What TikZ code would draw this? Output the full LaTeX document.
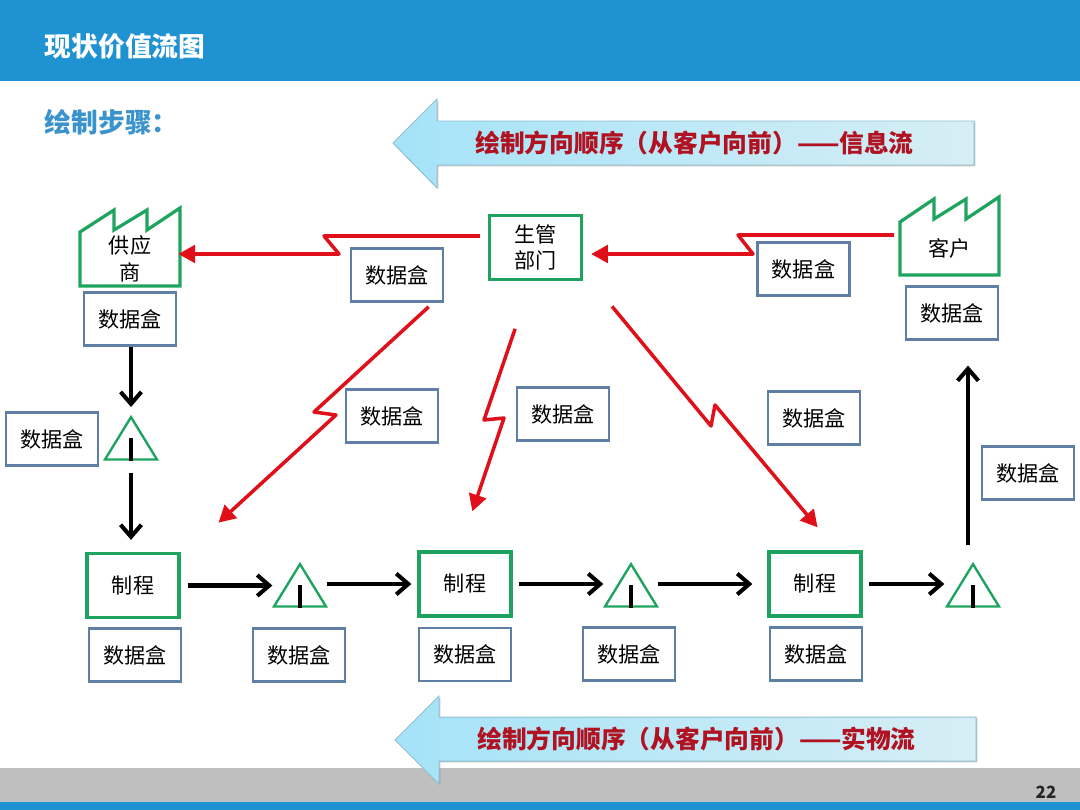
\documentclass[tikz,border=0pt]{standalone}
\usepackage{fontspec}
\setmainfont{Noto Sans CJK SC}
\usetikzlibrary{arrows.meta,shapes.geometric,shadows}
\definecolor{bandblue}{HTML}{1F92D1}
\definecolor{headblue}{HTML}{3A93CC}
\definecolor{bandgray}{HTML}{BFBFBF}
\definecolor{plantgreen}{HTML}{1FA45F}
\definecolor{boxblue}{HTML}{5F7FA5}
\definecolor{linered}{HTML}{E0101A}
\definecolor{flowred}{HTML}{B01222}
\definecolor{arrowleft}{HTML}{A5E3F8}
\definecolor{arrowright}{HTML}{D7EEF5}
\definecolor{arrowedge}{HTML}{8FBFCF}
\begin{document}
\begin{tikzpicture}[x=0.025cm,y=-0.025cm,
    databox/.style={draw=boxblue,line width=1.7pt,minimum width=2.3cm,minimum height=1.32cm,inner sep=0pt,font=\fontsize{15}{18}\selectfont},
    process/.style={draw=plantgreen,line width=2.3pt,minimum width=2.3cm,minimum height=1.6cm,inner sep=0pt,align=center,font=\fontsize{15}{18}\selectfont},
    plantname/.style={minimum width=2.5cm,minimum height=1.35cm,inner sep=0pt,align=center,font=\fontsize{15}{19}\selectfont},
    plant/.style={draw=plantgreen,line width=2.3pt,line join=miter},
    stock/.style={draw=plantgreen,line width=1.7pt,isosceles triangle,isosceles triangle stretches,shape border rotate=90,minimum width=1.3cm,minimum height=1.06cm,inner sep=0pt,anchor=apex},
    bar/.style={line width=2.6pt},
    flow/.style={line width=2.9pt,-{Straight Barb[length=3mm,width=5.2mm]}},
    info/.style={linered,line width=2.5pt,line join=round,-{Triangle[length=4.2mm,width=4.4mm]}},
    bigarrow/.style={draw=arrowedge,line width=0.7pt,left color=arrowleft,right color=arrowright,drop shadow={shadow xshift=1pt,shadow yshift=-1pt,fill=black!45}},
    flowtext/.style={text=flowred,font=\fontsize{17.6}{20}\selectfont\bfseries}]
  \useasboundingbox (0,0) rectangle (1080,810);
  % bands
  \fill[bandblue] (0,0) rectangle (1080,81);
  \fill[bandgray] (0,768) rectangle (1080,802);
  \fill[bandblue] (0,802) rectangle (1080,810);
  \node[anchor=west,text=white,font=\fontsize{19}{22}\selectfont\bfseries] (title) at (40,46) {现状价值流图};
  \node[anchor=west,text=headblue,font=\fontsize{19}{22}\selectfont\bfseries] (steps) at (40,122) {绘制步骤：};
  \node[font=\fontsize{12}{14}\selectfont\bfseries,text=black!85] (pageno) at (1046,792) {22};
  % direction arrows
  \draw[bigarrow] (393,143) -- (437,99) -- (437,121) -- (974,121) -- (974,165) -- (437,165) -- (437,188) -- cycle;
  \node[flowtext] (infotext) at (694.5,143) {绘制方向顺序（从客户向前）——信息流};
  \draw[bigarrow] (395,740) -- (439,696) -- (439,717) -- (976,717) -- (976,761) -- (439,761) -- (439,784) -- cycle;
  \node[flowtext] (mattext) at (696.5,739) {绘制方向顺序（从客户向前）——实物流};
  % plants
  \draw[plant] (80,232) -- (114,210) -- (114,230) -- (147,210) -- (147,230) -- (180,208) -- (180,286) -- (80,286) -- cycle;
  \draw[plant] (900,222) -- (934,199) -- (934,219) -- (966,199) -- (966,219) -- (999,197) -- (999,275) -- (900,275) -- cycle;
  \node[plantname] (supplier) at (130,259) {供应\\商};
  \node[plantname] (customer) at (949.5,248) {客户};
  \node[process] (ctrl) at (535.5,247.5) {生管\\部门};
  \node[process] (p1) at (133,585.5) {制程};
  \node[process] (p2) at (465,584) {制程};
  \node[process] (p3) at (815,584) {制程};
  % stock triangles
  \node[stock] (t1) at (131,414) {};
  \node[stock] (t2) at (300,561) {};
  \node[stock] (t3) at (631,561) {};
  \node[stock] (t4) at (973,561) {};
  \foreach \t in {t1,t2,t3,t4}{ \draw[bar] (\t.south) -- ++(0,-23); }
  % data boxes
  \node[databox] (dsup) at (130,319) {数据盒};
  \node[databox] (dleft) at (52,439) {数据盒};
  \node[databox] (dinfoa) at (397,275) {数据盒};
  \node[databox] (dinfob) at (803.5,269) {数据盒};
  \node[databox] (dcus) at (952,313) {数据盒};
  \node[databox] (dsa) at (392,416) {数据盒};
  \node[databox] (dsb) at (563,414) {数据盒};
  \node[databox] (dsc) at (814,418) {数据盒};
  \node[databox] (dright) at (1028,473) {数据盒};
  \node[databox] (da) at (135,655) {数据盒};
  \node[databox] (db) at (299,655) {数据盒};
  \node[databox] (dc) at (465,654.5) {数据盒};
  \node[databox] (dd) at (629,654) {数据盒};
  \node[databox] (de) at (816,654) {数据盒};
  % material flow
  \draw[flow,shorten >=.175cm] (dsup.south -| t1.apex) -- (t1.apex);
  \draw[flow,shorten <=.3cm,shorten >=.3cm] (t1.south) -- (t1.south |- p1.north);
  \draw[flow,shorten <=.175cm,shorten >=.225cm] (p1.east) -- (p1.east -| t2.west);
  \draw[flow,shorten <=.2cm,shorten >=.15cm] (p2.west -| t2.east) -- (p2.west);
  \draw[flow,shorten <=.15cm,shorten >=.225cm] (p2.east) -- (p2.east -| t3.west);
  \draw[flow,shorten <=.2cm,shorten >=.375cm] (p3.west -| t3.east) -- (p3.west);
  \draw[flow,shorten <=.15cm,shorten >=.25cm] (p3.east) -- (p3.east -| t4.west);
  \draw[flow,shorten <=.4cm,shorten >=.625cm] ([xshift=-1.25mm]t4.apex) -- ([xshift=-1.25mm]t4.apex |- dcus.south);
  % information flow
  \coordinate (ka) at (324,236);
  \coordinate (kb) at (339,254);
  \coordinate (kc) at (738,235);
  \coordinate (kd) at (753,254);
  \coordinate (ke) at (314,412);
  \coordinate (kf) at (336,415);
  \coordinate (kg) at (484,420);
  \coordinate (kh) at (504,418);
  \coordinate (ki) at (711,426);
  \coordinate (kj) at (715,405);
  \draw[info,shorten <=.2cm,shorten >=-.05cm] (ctrl.west |- ka) -- (ka) -- (kb) -- (supplier.east |- kb);
  \draw[info,shorten <=.125cm,shorten >=.2cm] (customer.west |- kc) -- (kc) -- (kd) -- (ctrl.east |- kd);
  \draw[info,shorten <=.95cm,shorten >=1.08cm] ([xshift=-.78cm]ctrl.south west) -- (ke) -- (kf) -- ([xshift=.15cm]p1.north east);
  \draw[info,shorten <=1.26cm,shorten >=1.03cm] (ctrl.263) -- (kg) -- (kh) -- (p2.100);
  \draw[info,shorten <=.82cm,shorten >=.75cm] ([xshift=.2cm]ctrl.south east) -- (ki) -- (kj) -- (p3.57);
\end{tikzpicture}
\end{document}
